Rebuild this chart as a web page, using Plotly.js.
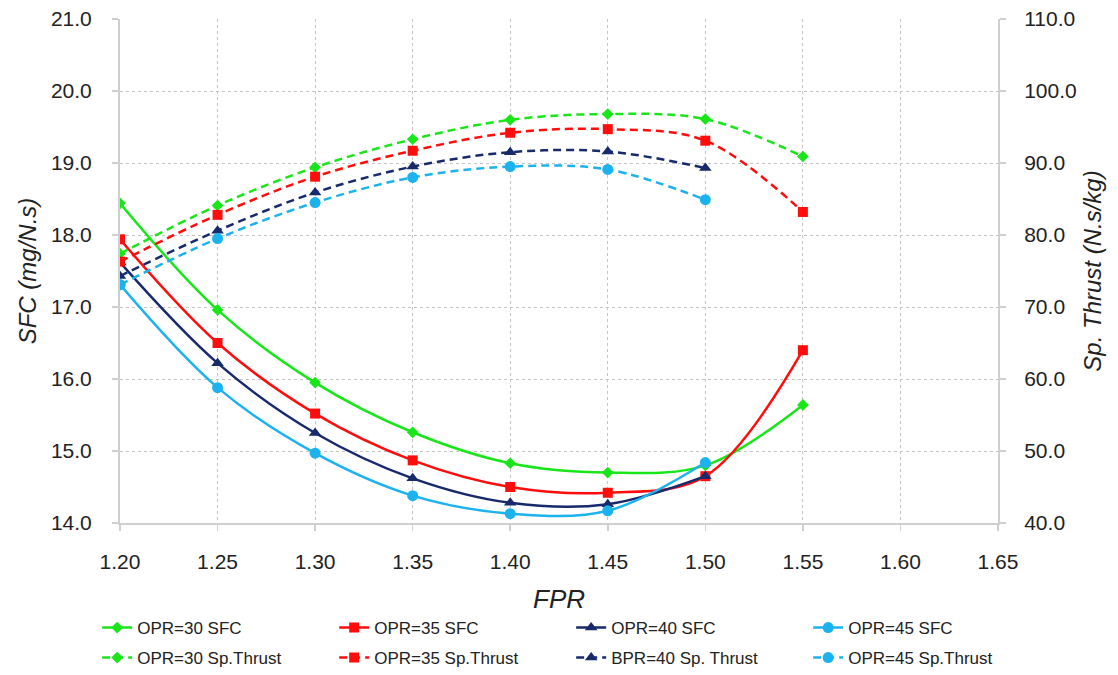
<!DOCTYPE html>
<html>
<head>
<meta charset="utf-8">
<script src="https://cdn.plot.ly/plotly-3.0.1.min.js"></script>
<style>html,body{margin:0;padding:0;background:#fff;}#chart{width:1118px;height:675px;}</style>
</head>
<body>
<div id="chart"></div>
<script>
// FPR values
const fpr = [1.20, 1.25, 1.30, 1.35, 1.40, 1.45, 1.50, 1.55];

// SFC (mg/N.s)
const sfcOPR30 = [18.44, 16.96, 15.95, 15.26, 14.83, 14.70, 14.80, 15.64];
const sfcOPR35 = [17.94, 16.50, 15.52, 14.87, 14.50, 14.42, 14.65, 16.40];
const sfcOPR40 = [17.62, 16.22, 15.25, 14.62, 14.28, 14.26, 14.65];
const sfcOPR45 = [17.31, 15.88, 14.97, 14.38, 14.13, 14.17, 14.84];

// Specific thrust (N.s/kg)
const thrOPR30 = [77.4, 84.1, 89.4, 93.3, 96.0, 96.8, 96.1, 90.9];
const thrOPR35 = [76.3, 82.8, 88.1, 91.7, 94.2, 94.7, 93.1, 83.2];
const thrBPR40 = [74.3, 80.6, 85.9, 89.5, 91.5, 91.6, 89.3];
const thrOPR45 = [73.1, 79.5, 84.5, 88.0, 89.5, 89.1, 84.9];

const names = ['OPR=30 SFC','OPR=35 SFC','OPR=40 SFC','OPR=45 SFC',
               'OPR=30 Sp.Thrust','OPR=35 Sp.Thrust','BPR=40 Sp. Thrust','OPR=45 Sp.Thrust'];

const cGreen = '#19e619', cRed = '#ff0d0d', cNavy = '#172a6b', cCyan = '#1cb2ee';

function tr(y, name, color, sym, size, dash, axis, leg) {
  return {
    x: fpr.slice(0, y.length), y: y, name: name, type: 'scatter', mode: 'lines+markers',
    yaxis: axis, legend: leg,
    line: {color: color, width: 2.5, shape: 'spline', smoothing: 1, dash: dash},
    marker: {color: color, symbol: sym, size: size}
  };
}

const dashP = '8px,5px';
const data = [
  tr(sfcOPR30, names[0], cGreen, 'diamond', 9, 'solid', 'y', 'legend'),
  tr(sfcOPR35, names[1], cRed, 'square', 10, 'solid', 'y', 'legend'),
  tr(sfcOPR40, names[2], cNavy, 'triangle-up', 11, 'solid', 'y', 'legend'),
  tr(sfcOPR45, names[3], cCyan, 'circle', 11, 'solid', 'y', 'legend'),
  tr(thrOPR30, names[4], cGreen, 'diamond', 9, dashP, 'y2', 'legend2'),
  tr(thrOPR35, names[5], cRed, 'square', 10, dashP, 'y2', 'legend2'),
  tr(thrBPR40, names[6], cNavy, 'triangle-up', 11, dashP, 'y2', 'legend2'),
  tr(thrOPR45, names[7], cCyan, 'circle', 11, dashP, 'y2', 'legend2')
];

const font = 'Arial, "Liberation Sans", sans-serif';
const axisCol = '#cfcfcf';
const gridCol = '#c4c4c4';

const legBase = {
  orientation: 'h', x: -0.026, xanchor: 'left', yanchor: 'middle',
  entrywidth: 192, font: {size: 17, color: '#222'}, traceorder: 'normal', bgcolor: 'rgba(0,0,0,0)'
};

const layout = {
  width: 1118, height: 675,
  margin: {l: 120, r: 120, t: 19, b: 152, autoexpand: false},
  paper_bgcolor: '#fff', plot_bgcolor: '#fff',
  font: {family: font, color: '#222', size: 21},
  showlegend: true,
  legend: Object.assign({}, legBase, {y: -0.2083}),
  legend2: Object.assign({}, legBase, {y: -0.2679}),
  xaxis: {
    range: [1.2, 1.65], dtick: 0.05, tick0: 1.2, tickformat: '.2f',
    showgrid: true, gridcolor: gridCol, griddash: 'dot', gridwidth: 1,
    showline: true, linecolor: axisCol, linewidth: 2,
    ticks: 'outside', ticklen: 6, tickcolor: axisCol, tickwidth: 1.5,
    ticklabelstandoff: 13, zeroline: false,
    tickfont: {size: 21, color: '#222'},
    title: {text: 'FPR', font: {size: 26, color: '#222', style: 'italic'}, standoff: 18}
  },
  yaxis: {
    range: [14, 21], dtick: 1, tickformat: '.1f',
    showgrid: true, gridcolor: gridCol, griddash: 'dot', gridwidth: 1,
    showline: true, linecolor: axisCol, linewidth: 2,
    ticks: 'outside', ticklen: 6, tickcolor: axisCol, tickwidth: 1.5,
    ticklabelstandoff: 16, zeroline: false,
    tickfont: {size: 21, color: '#222'},
    title: {text: 'SFC (mg/N.s)', font: {size: 24, color: '#222', style: 'italic'}, standoff: 8}
  },
  yaxis2: {
    range: [40, 110], dtick: 10, tickformat: '.1f', overlaying: 'y', side: 'right',
    showgrid: false, showline: true, linecolor: axisCol, linewidth: 2,
    ticks: 'outside', ticklen: 6, tickcolor: axisCol, tickwidth: 1.5,
    ticklabelstandoff: 14, zeroline: false,
    tickfont: {size: 21, color: '#222'},
    title: {text: 'Sp. Thrust (N.s/kg)', font: {size: 24, color: '#222', style: 'italic'}, standoff: 8}
  }
};

Plotly.newPlot('chart', data, layout, {displayModeBar: false, staticPlot: true});
</script>
</body>
</html>
